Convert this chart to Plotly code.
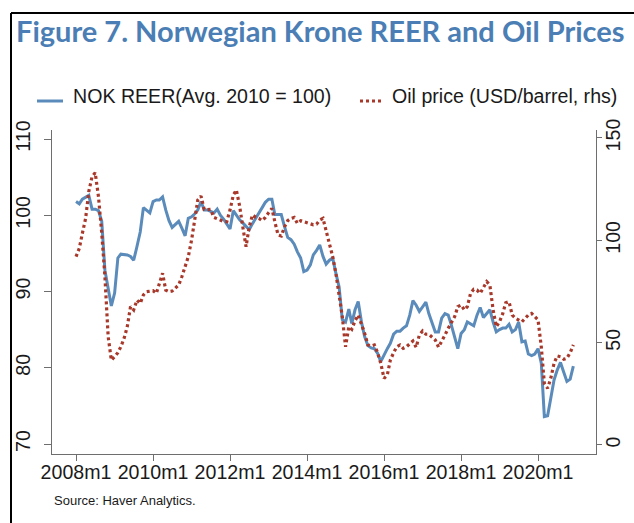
import pandas as pd
import plotly.graph_objects as go

# ---------------- data ----------------
start_month = "2008-01-01"
n_months = 156
months = pd.date_range(start_month, periods=n_months, freq="MS")

nok_reer = [
    101.8, 101.5, 102.1, 102.3, 102.6, 100.8, 100.8, 100.6, 99.2, 92.8, 90.6, 88.1,   # 2008
    89.8, 94.4, 94.9, 94.8, 94.8, 94.6, 94.1, 95.9, 97.8, 101.0, 100.7, 100.3,        # 2009
    101.8, 102.0, 102.0, 102.4, 100.7, 99.3, 98.4, 98.8, 99.2, 98.3, 97.3, 99.6,      # 2010
    99.8, 100.2, 100.7, 101.8, 100.7, 100.7, 100.5, 100.3, 100.8, 100.0, 99.5, 98.8,  # 2011
    98.2, 100.6, 100.0, 99.4, 99.0, 98.5, 98.1, 98.9, 99.7, 100.3, 101.0, 101.7,      # 2012
    102.1, 102.1, 100.1, 100.1, 100.1, 98.5, 97.1, 96.8, 96.2, 95.2, 94.4, 92.6,      # 2013
    92.8, 93.5, 94.8, 95.4, 96.1, 94.6, 93.6, 94.1, 94.4, 92.4, 90.6, 86.3,           # 2014
    86.0, 87.7, 85.8, 87.6, 88.7, 86.0, 84.1, 82.9, 82.6, 82.5, 81.9, 80.8,           # 2015
    81.7, 82.5, 83.2, 84.4, 84.8, 84.8, 85.2, 85.5, 86.9, 88.8, 88.2, 87.4,           # 2016
    88.0, 88.6, 87.1, 85.8, 84.7, 84.7, 86.5, 87.1, 86.9, 85.6, 84.1, 82.5,           # 2017
    84.5, 85.0, 86.0, 85.8, 85.5, 86.9, 87.9, 86.6, 87.1, 87.6, 86.0, 84.7,           # 2018
    85.0, 85.2, 85.2, 85.7, 84.7, 85.0, 86.0, 83.4, 83.5, 81.8, 81.6, 81.8,           # 2019
    82.5, 80.6, 73.6, 73.7, 76.0, 78.4, 79.7, 80.7, 79.4, 78.2, 78.5, 80.2,           # 2020
]

oil_price = [
    92.0, 96.1, 103.4, 110.7, 123.8, 131.1, 133.0, 121.3, 103.4, 82.2, 52.9, 41.5,    # 2008
    43.1, 45.1, 48.0, 52.1, 57.8, 67.6, 66.0, 70.8, 69.2, 73.3, 74.9, 75.2,           # 2009
    75.4, 74.1, 78.2, 83.9, 75.7, 74.9, 75.2, 76.5, 78.2, 82.2, 87.1, 92.0,           # 2010
    100.1, 109.9, 119.7, 121.6, 115.1, 115.0, 115.1, 111.2, 110.7, 109.9, 109.1, 109.1,  # 2011
    114.8, 122.1, 124.6, 116.8, 106.6, 96.9, 106.6, 112.4, 111.2, 110.7, 109.6, 111.2,   # 2012
    113.5, 115.6, 109.1, 102.6, 102.1, 106.6, 109.6, 110.7, 111.2, 108.3, 109.6, 109.1,  # 2013
    108.3, 108.0, 107.6, 107.9, 109.9, 110.7, 105.0, 99.3, 92.0, 83.9, 74.1, 62.7,    # 2014
    48.0, 57.8, 56.5, 60.7, 63.5, 59.5, 54.6, 48.9, 48.4, 48.9, 45.1, 39.9,           # 2015
    32.6, 34.2, 41.5, 45.1, 48.0, 48.9, 47.2, 48.0, 49.7, 50.8, 47.7, 53.7,           # 2016
    55.7, 54.1, 54.1, 52.9, 51.3, 47.8, 50.5, 53.7, 57.0, 60.2, 62.7, 67.6,           # 2017
    68.4, 66.0, 67.6, 74.1, 76.1, 75.7, 74.1, 76.9, 79.8, 78.2, 66.0, 57.8,           # 2018
    60.2, 64.3, 69.5, 70.0, 63.5, 61.9, 61.1, 60.2, 61.9, 63.5, 64.3, 62.7,           # 2019
    61.1, 48.0, 30.1, 27.7, 32.6, 39.9, 43.5, 43.1, 41.9, 42.4, 45.1, 48.9,           # 2020
]

x_tick_dates = ["2008-01-01", "2010-01-01", "2012-01-01", "2014-01-01",
                "2016-01-01", "2018-01-01", "2020-01-01"]
x_tick_labels = ["2008m1", "2010m1", "2012m1", "2014m1", "2016m1", "2018m1", "2020m1"]
left_ticks = [70, 80, 90, 100, 110]
right_ticks = [0, 50, 100, 150]

title_text = "Figure 7. Norwegian Krone REER and Oil Prices"
reer_name = "NOK REER(Avg. 2010 = 100)"
oil_name = "Oil price (USD/barrel, rhs)"
source_text = "Source: Haver Analytics."

# ---------------- styling / layout ----------------
W, H = 634, 523
PL, PR, PT, PB = 52, 596, 130, 454  # plot area in pixels
BLUE = "#5A8BBA"
RED = "#A8382A"
TITLE_BLUE = "#4A7EB4"
AXIS_GRAY = "#6E6E6E"
TXT = "#1A1A1A"
FONT = "Liberation Sans, Arial, sans-serif"
FS = 19.6


def px(xp):
    return (xp - PL) / (PR - PL)


def py(yp):
    return (PB - yp) / (PB - PT)


fig = go.Figure()
fig.add_trace(go.Scatter(x=months, y=nok_reer, mode="lines", name=reer_name,
                         line=dict(color=BLUE, width=3), yaxis="y"))
fig.add_trace(go.Scatter(x=months, y=oil_price, mode="lines", name=oil_name,
                         line=dict(color=RED, width=3.2, dash="3px,3px"), yaxis="y2"))

axis_common = dict(showgrid=False, zeroline=False, showline=True, linecolor=AXIS_GRAY,
                   linewidth=1, ticks="outside", tickcolor=AXIS_GRAY, tickwidth=1,
                   automargin=False,
                   tickfont=dict(family=FONT, size=FS, color=TXT))

fig.update_layout(
    width=W, height=H,
    margin=dict(l=PL, r=W - PR, t=PT, b=H - PB, pad=0),
    paper_bgcolor="white", plot_bgcolor="white",
    showlegend=False,
    xaxis=dict(type="date", range=["2007-05-18", "2021-07-04"],
               tickvals=x_tick_dates, ticktext=x_tick_labels, ticklen=6,
               ticklabelstandoff=-6, **axis_common),
    yaxis=dict(range=[68.69, 111.18], tickvals=left_ticks, tickangle=-90, ticklen=7,
               ticklabelstandoff=6, **axis_common),
    yaxis2=dict(range=[-4.4, 153.9], tickvals=right_ticks, tickangle=-90, ticklen=5,
                ticklabelstandoff=-6, overlaying="y", side="right", **axis_common),
)

shapes = [
    # frame lines (top and left)
    dict(type="line", xref="paper", yref="paper", x0=px(11), x1=px(634), y0=py(13), y1=py(13),
         line=dict(color="black", width=2)),
    dict(type="line", xref="paper", yref="paper", x0=px(11), x1=px(11), y0=py(13), y1=py(523),
         line=dict(color="black", width=2)),
    # legend keys
    dict(type="line", xref="paper", yref="paper", x0=px(37), x1=px(63), y0=py(101), y1=py(101),
         line=dict(color=BLUE, width=3)),
    dict(type="line", xref="paper", yref="paper", x0=px(360), x1=px(384), y0=py(101), y1=py(101),
         line=dict(color=RED, width=3.2, dash="3px,3px")),
]

annotations = [
    dict(text=f"<b>{title_text}</b>", xref="paper", yref="paper", x=px(14), y=py(31),
         xanchor="left", yanchor="middle", showarrow=False,
         font=dict(family="Lato, Open Sans, sans-serif", size=29, color=TITLE_BLUE)),
    dict(text=reer_name, xref="paper", yref="paper", x=px(71), y=py(96),
         xanchor="left", yanchor="middle", showarrow=False,
         font=dict(family=FONT, size=FS, color=TXT)),
    dict(text=oil_name, xref="paper", yref="paper", x=px(390), y=py(96),
         xanchor="left", yanchor="middle", showarrow=False,
         font=dict(family=FONT, size=FS, color=TXT)),
    dict(text=source_text, xref="paper", yref="paper", x=px(52), y=py(500),
         xanchor="left", yanchor="middle", showarrow=False,
         font=dict(family=FONT, size=13, color=TXT)),
]

fig.update_layout(shapes=shapes, annotations=annotations)
fig.write_html("out.html",
               config={"displayModeBar": False},
               post_script="document.body.style.margin='0px';"
                           "document.body.style.overflow='hidden';")
